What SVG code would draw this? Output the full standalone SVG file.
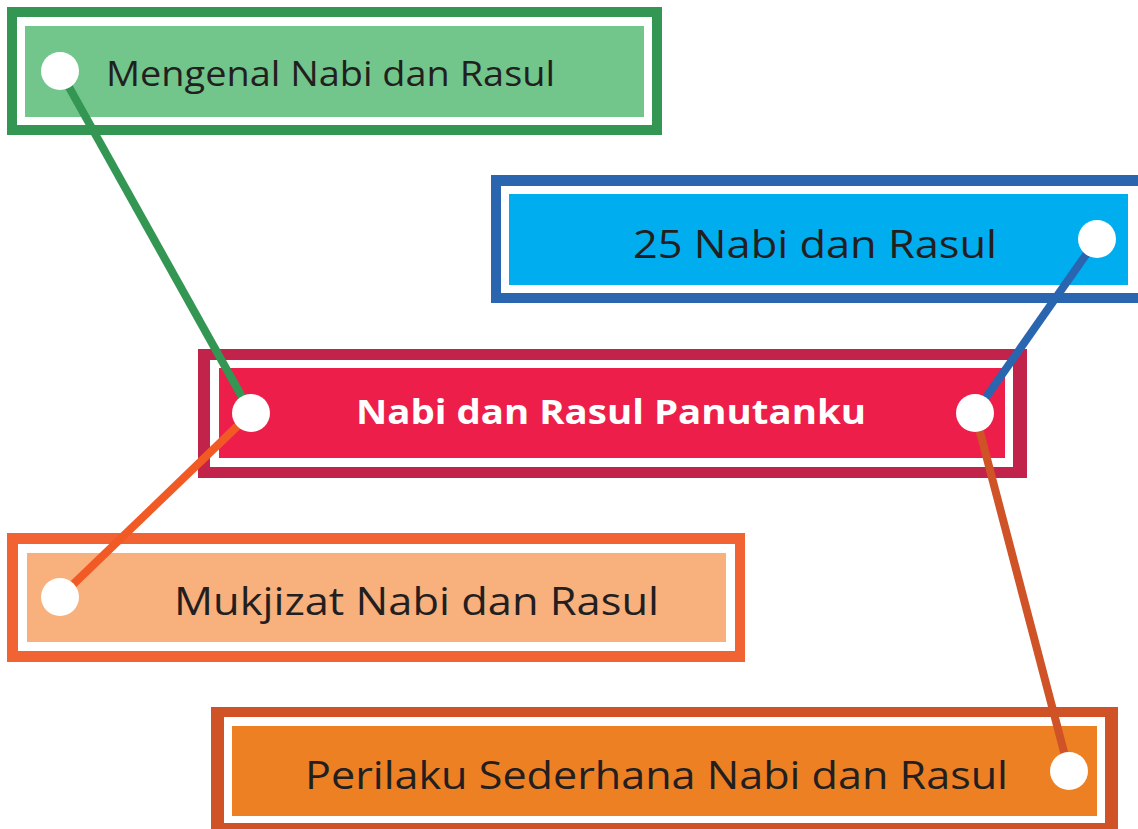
<svg xmlns="http://www.w3.org/2000/svg" width="1138" height="829" viewBox="0 0 1138 829">
<style>
.lbl{font-family:"Open Sans","Liberation Sans",sans-serif;fill:#231f20;}
.dot{fill:#ffffff;}
.gap{fill:#ffffff;}
.ln{stroke-width:8;stroke-linecap:butt;fill:none;}
</style>
<rect width="1138" height="829" fill="#ffffff"/>
<g id="node-mengenal">
<rect x="7" y="7" width="655" height="128" fill="#339652"/>
<rect x="17" y="17" width="635" height="108" class="gap"/>
<rect x="25" y="26" width="619" height="91" fill="#72c68b"/>
<text class="lbl" x="106" y="86" font-size="35" textLength="449" lengthAdjust="spacingAndGlyphs">Mengenal Nabi dan Rasul</text>
</g>
<g id="node-25">
<rect x="491" y="175" width="660" height="128" fill="#2a65b0"/>
<rect x="501" y="186" width="637" height="107" class="gap"/>
<rect x="509" y="194" width="619" height="91" fill="#00aeef"/>
<text class="lbl" x="633" y="258" font-size="38" textLength="364" lengthAdjust="spacingAndGlyphs">25 Nabi dan Rasul</text>
</g>
<g id="node-main">
<rect x="198" y="349" width="829" height="129" fill="#c1234a"/>
<rect x="210" y="360" width="803" height="107" class="gap"/>
<rect x="219" y="368" width="786" height="90" fill="#ed1f4a"/>
<text x="356" y="424" font-family="Open Sans, Liberation Sans, sans-serif" font-weight="bold" font-size="34" fill="#ffffff" textLength="510" lengthAdjust="spacingAndGlyphs">Nabi dan Rasul Panutanku</text>
</g>
<g id="node-mukjizat">
<rect x="7" y="533" width="738" height="129" fill="#f26334"/>
<rect x="18" y="544" width="717" height="107" class="gap"/>
<rect x="27" y="553" width="699" height="89" fill="#f8b07d"/>
<text class="lbl" x="174" y="615" font-size="38" textLength="485" lengthAdjust="spacingAndGlyphs">Mukjizat Nabi dan Rasul</text>
</g>
<g id="node-perilaku">
<rect x="211" y="707" width="907" height="130" fill="#cf5327"/>
<rect x="224" y="717" width="881" height="106" class="gap"/>
<rect x="232" y="726" width="865" height="90" fill="#ee8024"/>
<text class="lbl" x="305" y="789" font-size="38" textLength="703" lengthAdjust="spacingAndGlyphs">Perilaku Sederhana Nabi dan Rasul</text>
</g>
<g id="connectors">
<line class="ln" x1="60" y1="71" x2="251" y2="413" stroke="#339652"/>
<line class="ln" x1="60" y1="597" x2="251" y2="413" stroke="#f15a24"/>
<line class="ln" x1="1097" y1="239" x2="975" y2="413" stroke="#2a65b0"/>
<line class="ln" x1="975" y1="413" x2="1069" y2="771" stroke="#cf5327"/>
<circle class="dot" cx="60" cy="71" r="19"/>
<circle class="dot" cx="1097" cy="239" r="19"/>
<circle class="dot" cx="251" cy="413" r="19"/>
<circle class="dot" cx="975" cy="413" r="19"/>
<circle class="dot" cx="60" cy="597" r="19"/>
<circle class="dot" cx="1069" cy="771" r="19"/>
</g>
</svg>
